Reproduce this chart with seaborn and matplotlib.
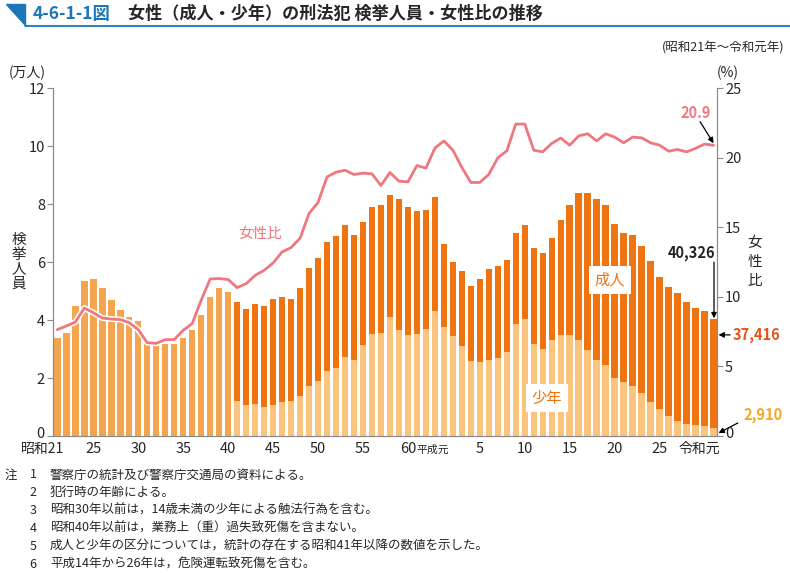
import numpy as np
import pandas as pd
import matplotlib
matplotlib.use("Agg")
import matplotlib.pyplot as plt
import matplotlib.patheffects as pe
import matplotlib.transforms as mtransforms
from matplotlib.patches import Polygon
from matplotlib.lines import Line2D
import seaborn as sns

# Data (万人 / %), 昭和21年 (1946) ~ 令和元年 (2019)
# totals only, 昭和21~40
pre_total = [3.37, 3.55, 4.47, 5.35, 5.42, 5.12, 4.69, 4.35, 4.10, 3.97,
             3.18, 3.18, 3.19, 3.19, 3.39, 3.66, 4.19, 4.81, 5.11, 4.97]
# 昭和41 ~ 令和元
juvenile = [1.20, 1.08, 1.10, 1.01, 1.06, 1.16, 1.22, 1.38, 1.73, 1.90,
            2.25, 2.36, 2.73, 2.63, 3.14, 3.52, 3.55, 4.10, 3.66, 3.48,
            3.52, 3.69, 4.33, 3.75, 3.45, 3.09, 2.60, 2.54, 2.63, 2.68,
            2.91, 3.86, 4.03, 3.17, 3.00, 3.32, 3.48, 3.48, 3.32, 2.97,
            2.61, 2.44, 2.00, 1.85, 1.73, 1.50, 1.16, 0.93, 0.70, 0.52,
            0.40, 0.37, 0.35, 0.291]
adult = [3.44, 3.32, 3.45, 3.48, 3.68, 3.65, 3.50, 3.72, 4.08, 4.24,
         4.46, 4.53, 4.56, 4.30, 4.26, 4.37, 4.42, 4.21, 4.52, 4.41,
         4.25, 4.11, 3.92, 2.89, 2.55, 2.61, 2.59, 2.87, 3.15, 3.19,
         3.15, 3.16, 3.24, 3.31, 3.32, 3.51, 3.97, 4.48, 5.07, 5.42,
         5.57, 5.52, 5.30, 5.16, 5.20, 5.06, 4.87, 4.55, 4.44, 4.40,
         4.22, 4.05, 3.97, 3.7416]
female_ratio = [7.65, 7.91, 8.19, 9.20, 8.87, 8.48, 8.41, 8.37, 8.15, 7.65,
                6.71, 6.66, 6.93, 6.93, 7.60, 8.08, 9.76, 11.29, 11.32, 11.25,
                10.67, 10.95, 11.55, 11.91, 12.44, 13.23, 13.55, 14.22, 16.00, 16.79,
                18.63, 18.97, 19.11, 18.80, 18.90, 18.85, 18.01, 18.95, 18.32, 18.27,
                19.45, 19.26, 20.70, 21.22, 20.55, 19.31, 18.23, 18.23, 18.81, 20.00,
                20.50, 22.43, 22.43, 20.55, 20.43, 21.04, 21.42, 20.91, 21.58, 21.73,
                21.22, 21.73, 21.49, 21.08, 21.49, 21.44, 21.08, 20.91, 20.48, 20.60,
                20.43, 20.68, 20.99, 20.90]
tick_pos = [4, 9, 14, 19, 24, 29, 34, 39, 47, 52, 57, 62, 67]
tick_labels = ["25", "30", "35", "40", "45", "50", "55", "60",
               "5", "10", "15", "20", "25"]
era_pos = [0, 43, 73]
era_labels = ["昭和21", "平成元", "令和元"]
notes = ["警察庁の統計及び警察庁交通局の資料による。",
         "犯行時の年齢による。",
         "昭和30年以前は，14歳未満の少年による触法行為を含む。",
         "昭和40年以前は，業務上（重）過失致死傷を含まない。",
         "成人と少年の区分については，統計の存在する昭和41年以降の数値を示した。",
         "平成14年から26年は，危険運転致死傷を含む。"]

sns.set_style("ticks")
plt.rcParams["font.family"] = ["Noto Sans CJK JP", "DejaVu Sans"]

c_pre = "#F5A54E"
c_adult = "#EE7412"
c_juv = "#FAC47F"
c_line = "#EE7780"
c_axis = "#8C8C8C"
c_blue = "#1B78B8"

n = len(pre_total) + len(adult)
idx = np.arange(n)
n_pre = len(pre_total)
total = pre_total + [a + j for a, j in zip(adult, juvenile)]
df = pd.DataFrame({"idx": idx, "total": total,
                   "kind": ["pre"] * n_pre + ["adult"] * len(adult)})
df_juv = pd.DataFrame({"idx": idx[n_pre:], "juv": juvenile})

W, H = 790, 573
fig = plt.figure(figsize=(W / 100, H / 100), dpi=100)
ax = fig.add_axes([53.3 / W, 1 - 436 / H, (716.7 - 53.3) / W, (436 - 88.3) / H])

sns.barplot(data=df, x="idx", y="total", hue="kind",
            palette={"pre": c_pre, "adult": c_adult}, dodge=False,
            native_scale=True, width=0.72, saturation=1, errorbar=None,
            legend=False, linewidth=0, ax=ax)
sns.barplot(data=df_juv, x="idx", y="juv", color=c_juv, native_scale=True,
            width=0.72, saturation=1, errorbar=None, linewidth=0, ax=ax)

ax.set_xlim(-0.45, 73.35)
ax.set_ylim(0, 12)
ax.set_yticks(range(0, 13, 2))
ax.set_xticks(tick_pos)
ax.set_xticklabels([])
ax.set_xlabel("")
ax.set_ylabel("")
ax.tick_params(axis="y", direction="out", length=4, width=0.8, color=c_axis,
               labelsize=10.5, pad=2)
ax.tick_params(axis="x", length=0)
for s in ["top", "right"]:
    ax.spines[s].set_visible(False)
for s in ["left", "bottom"]:
    ax.spines[s].set_color(c_axis)
    ax.spines[s].set_linewidth(0.9)


def fx(x):
    return x / W


def fy(y):
    return 1 - y / H


# x labels, all on one baseline
xt = mtransforms.blended_transform_factory(ax.transData, fig.transFigure)
for p, lab in zip(tick_pos, tick_labels):
    ax.text(p, fy(453), lab, ha="center", va="baseline", fontsize=10.5, transform=xt)
ax.text(era_pos[0] + 0.75, fy(453), era_labels[0], ha="right", va="baseline",
        fontsize=10, transform=xt)
ax.text(era_pos[1] + 0.6, fy(453), era_labels[1], ha="right", va="baseline",
        fontsize=7.8, transform=xt)
ax.text(era_pos[2] + 0.75, fy(453), era_labels[2], ha="right", va="baseline",
        fontsize=10, transform=xt)

ax2 = ax.twinx()
sns.lineplot(x=idx, y=female_ratio, color=c_line, linewidth=2.0, ax=ax2,
             path_effects=[pe.Stroke(linewidth=4.2, foreground="white"), pe.Normal()])
ax2.set_ylim(0, 25)
ax2.set_yticks(range(0, 26, 5))
ax2.tick_params(axis="y", direction="out", length=4, width=0.8, color=c_axis,
                labelsize=10.5, pad=2)
for s in ["top", "left", "bottom"]:
    ax2.spines[s].set_visible(False)
ax2.spines["right"].set_color(c_axis)
ax2.spines["right"].set_linewidth(0.9)

# the "0" labels sit a little above the axis line in the original
lift = mtransforms.ScaledTranslation(0, 4 / 100, fig.dpi_scale_trans)
for a in (ax, ax2):
    lbl = a.get_yticklabels()[0]
    lbl.set_transform(lbl.get_transform() + lift)

# title
fig.patches.append(Polygon([[fx(6), fy(4)], [fx(25), fy(4)], [fx(25), fy(25)]],
                           closed=True, color=c_blue, transform=fig.transFigure))
fig.lines.append(Line2D([fx(25), fx(790)], [fy(26), fy(26)], color=c_blue,
                        linewidth=1.3, transform=fig.transFigure))
fig.text(fx(33), fy(14), "4-6-1-1図", color=c_blue, fontsize=12.5,
         fontweight="bold", va="center")
fig.text(fx(128), fy(14), "女性（成人・少年）の刑法犯 検挙人員・女性比の推移",
         fontsize=12.3, fontweight="bold", va="center")
fig.text(fx(784), fy(48), "(昭和21年～令和元年)", fontsize=9, ha="right", va="center")
fig.text(fx(27), fy(73), "(万人)", fontsize=10, ha="center", va="center")
fig.text(fx(728), fy(73), "(%)", fontsize=10, ha="center", va="center")
fig.text(fx(19), fy(262), "\n".join("検挙人員"), fontsize=10.5, ha="center",
         va="center", linespacing=1.05)
fig.text(fx(755), fy(262), "\n".join("女性比"), fontsize=10.5, ha="center",
         va="center", linespacing=1.45)

# labels inside the plot
fig.text(fx(260), fy(234), "女性比", color=c_line, fontsize=10.5,
         ha="center", va="center")
fig.text(fx(610), fy(280), "成人", color=c_adult, fontsize=11, ha="center",
         va="center", bbox=dict(facecolor="white", edgecolor="none", pad=4))
fig.text(fx(547), fy(398), "少年", color=c_adult, fontsize=11, ha="center",
         va="center", bbox=dict(facecolor="white", edgecolor="none", pad=4))

# value callouts
arrow = dict(arrowstyle="-|>", color="black", lw=0.9, mutation_scale=8,
             shrinkA=0, shrinkB=0)
fig.text(fx(692), fy(253), "40,326", fontsize=10.5, fontweight="bold",
         ha="center", va="center")
ax.annotate("", xy=(73.05, total[-1] + 0.03), xytext=(73.05, 6.0),
            arrowprops=arrow, annotation_clip=False)
fig.text(fx(733), fy(335), "37,416", color="#E8531B", fontsize=10.5,
         fontweight="bold", ha="left", va="center")
ax.annotate("", xy=(73.55, 3.49), xytext=(74.85, 3.49),
            arrowprops=arrow, annotation_clip=False)
fig.text(fx(763), fy(415), "2,910", color="#F5A623", fontsize=10.5,
         fontweight="bold", ha="center", va="center")
ax.annotate("", xy=(73.55, 0.1), xytext=(75.7, 0.45),
            arrowprops=arrow, annotation_clip=False)
fig.text(fx(696), fy(113), "20.9", color=c_line, fontsize=10.5,
         fontweight="bold", ha="center", va="center")
ax2.annotate("", xy=(73.0, 21.05), xytext=(71.5, 22.6),
             arrowprops=arrow, annotation_clip=False)

# notes
fig.text(fx(5), fy(475), "注", fontsize=9, va="center")
for i, note in enumerate(notes):
    y = 475 + i * 17.8
    fig.text(fx(33), fy(y), str(i + 1), fontsize=9, ha="center", va="center")
    fig.text(fx(50), fy(y), note, fontsize=9, va="center")

fig.savefig("out.png", dpi=100)
